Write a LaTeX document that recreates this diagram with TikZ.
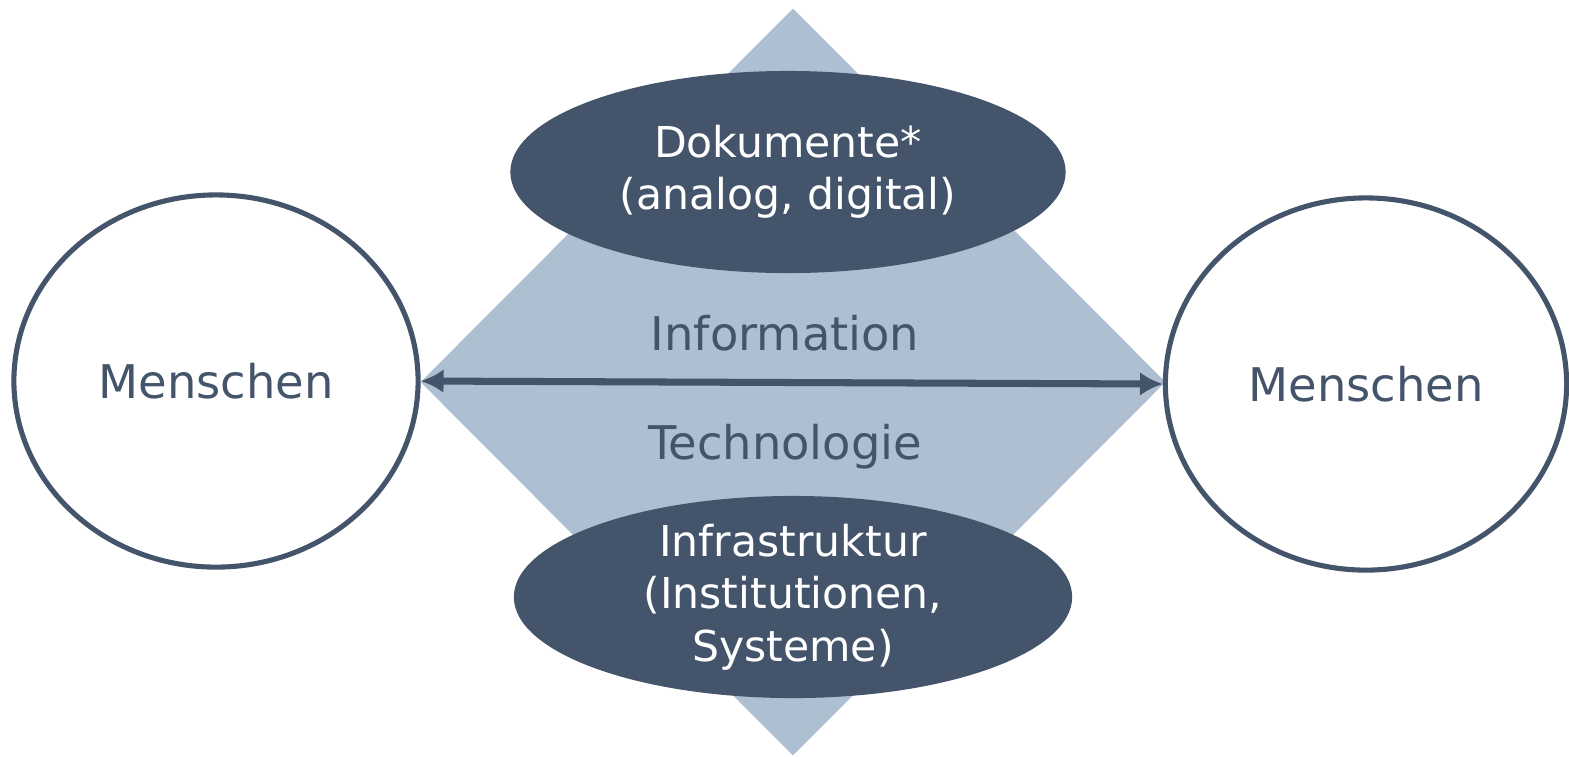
\documentclass[tikz,border=0pt]{standalone}
\usepackage{fontspec}
\setmainfont{DejaVu Sans}
\usetikzlibrary{shapes.geometric, positioning, arrows.meta}
\definecolor{slate}{HTML}{44546A}
\definecolor{haze}{HTML}{ADBFD0}
\tikzset{
    x=0.01cm, y=-0.01cm, % one unit is one pixel of the reference
    every node/.style={font=\fontsize{13.2}{15}\selectfont, text=slate, align=center},
    person/.style={ellipse, draw=slate, line width=1.45pt, fill=white, minimum width=4.04cm, minimum height=3.72cm}, % the two circles
    topic/.style={ellipse, fill=slate, text=white, font=\fontsize{12.1}{14.9}\selectfont, minimum width=5.55cm, minimum height=2.02cm, inner sep=0pt, inner ysep=-8pt}, % dark ellipses
    link/.style={{Latex[length=6.5pt,width=6.8pt]}-{Latex[length=6.5pt,width=6.8pt]}, line width=2pt, draw=slate},
}

\begin{document}
\begin{tikzpicture}
        \useasboundingbox (0,0) rectangle (1569,756);

        % background diamond
        \node[diamond, fill=haze, minimum width=7.45cm, minimum height=7.47cm, inner sep=0pt] (CORE) at (793,382) {};

        % nodes
        \node[topic] (DOCS)  at (788,172) {Dokumente*\\(analog, digital)};
        \node[topic, minimum width=5.58cm] (INFRA) at (793,597) {Infrastruktur\\(Institutionen,\\Systeme)};
        \node[person] (MEN_L) at (216,381) {Menschen};
        \node[person, minimum width=4.01cm] (MEN_R) at (1366,384) {Menschen};
        \node (INFO) at (785,333) {Information};
        \node (TECH) at (785,447) {Technologie};

        % arrow
        \draw[link] (MEN_L.east) -- (MEN_R.west);
\end{tikzpicture}
\end{document}
